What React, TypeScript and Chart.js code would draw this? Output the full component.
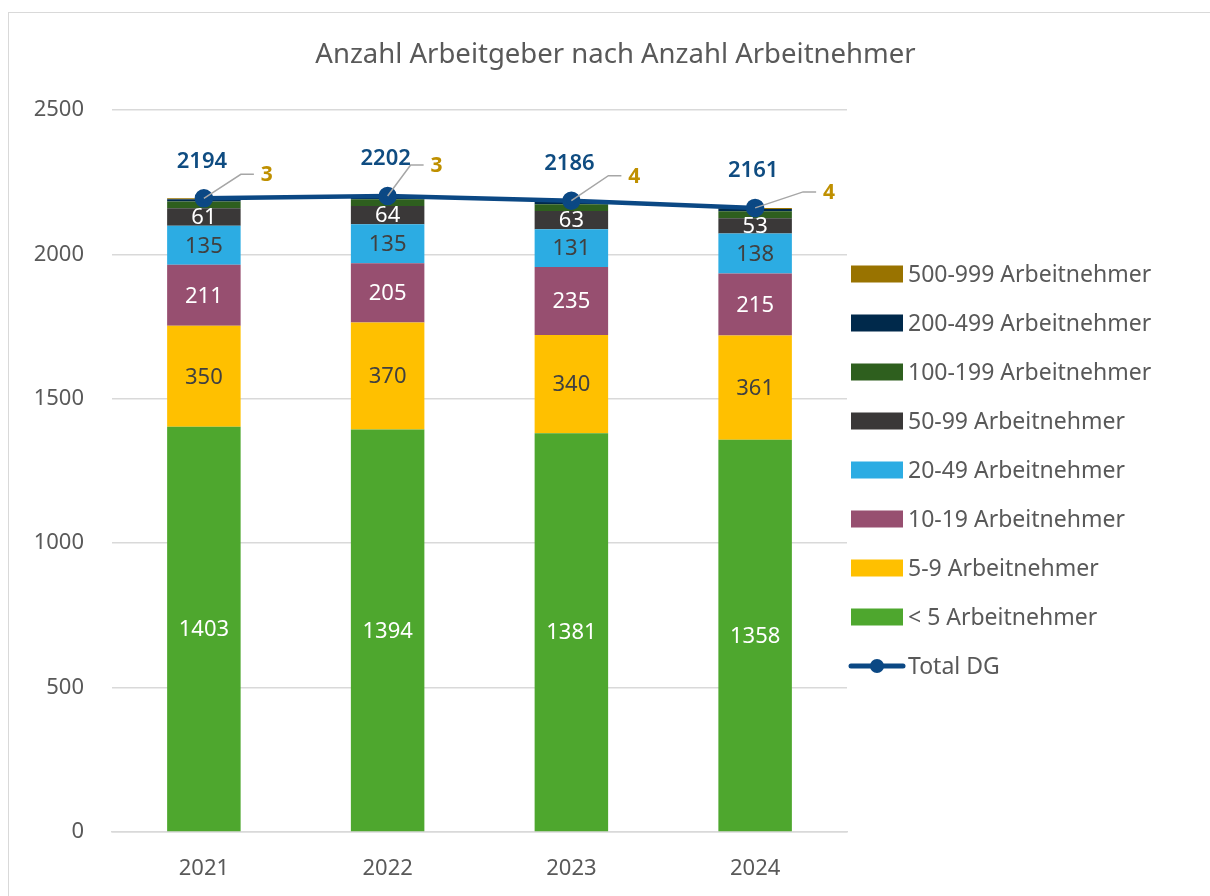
import React, { useEffect, useRef } from 'react';
import { Chart, registerables } from 'chart.js';

Chart.register(...registerables);

const categories = ['2021', '2022', '2023', '2024'];
const lt5 = [1403, 1394, 1381, 1358];
const s5to9 = [350, 370, 340, 361];
const s10to19 = [211, 205, 235, 215];
const s20to49 = [135, 135, 131, 138];
const s50to99 = [61, 64, 63, 53];
const s100to199 = [23, 23, 24, 24];
const s200to499 = [8, 8, 8, 8];
const s500to999 = [3, 3, 4, 4];
const totals = [2194, 2202, 2186, 2161];
const yTicks = [0, 500, 1000, 1500, 2000, 2500];
const titleText = 'Anzahl Arbeitgeber nach Anzahl Arbeitnehmer';

// label offsets (annotation placement for the 500-999 callouts)
const calloutOffsets = [
  [63, -24],
  [49, -31],
  [63, -25],
  [74, -16],
];

const FONT = '"Noto Sans", "Open Sans", sans-serif';
const GREY = '#595959';

export default function App() {
  const ref = useRef<HTMLCanvasElement>(null);

  useEffect(() => {
    if (!ref.current) return;
    const bars = [
      { label: '< 5 Arbeitnehmer', data: lt5, color: '#4EA72E', text: '#FFFFFF', show: true },
      { label: '5-9 Arbeitnehmer', data: s5to9, color: '#FFC000', text: '#404040', show: true },
      { label: '10-19 Arbeitnehmer', data: s10to19, color: '#974F70', text: '#FFFFFF', show: true },
      { label: '20-49 Arbeitnehmer', data: s20to49, color: '#2CACE3', text: '#404040', show: true },
      { label: '50-99 Arbeitnehmer', data: s50to99, color: '#3A3838', text: '#FFFFFF', show: true },
      { label: '100-199 Arbeitnehmer', data: s100to199, color: '#2E5F1E', text: '#FFFFFF', show: false },
      { label: '200-499 Arbeitnehmer', data: s200to499, color: '#00294B', text: '#FFFFFF', show: false },
      { label: '500-999 Arbeitnehmer', data: s500to999, color: '#997300', text: '#FFFFFF', show: false },
    ];
    const lineColor = '#0B4884';
    const lineIndex = bars.length;
    const smallIndex = 7;

    const datasets: any[] = bars.map((b) => ({
      type: 'bar',
      label: b.label,
      data: b.data,
      backgroundColor: b.color,
      borderWidth: 0,
      barPercentage: 0.4,
      categoryPercentage: 1.0,
      stack: 'bars',
      order: 1,
    }));
    datasets.push({
      type: 'line',
      label: 'Total DG',
      data: totals,
      borderColor: lineColor,
      backgroundColor: lineColor,
      borderWidth: 4.5,
      pointRadius: 7,
      pointBackgroundColor: lineColor,
      pointBorderColor: lineColor,
      tension: 0,
      stack: 'line',
      order: 0,
    });

    const labelPlugin = {
      id: 'valueLabels',
      afterDatasetsDraw(chart: any) {
        const ctx = chart.ctx;
        ctx.save();
        ctx.textAlign = 'center';
        ctx.textBaseline = 'middle';
        ctx.font = `22px ${FONT}`;
        bars.forEach((b, i) => {
          if (!b.show) return;
          const meta = chart.getDatasetMeta(i);
          meta.data.forEach((el: any, j: number) => {
            const p = el.getProps(['x', 'y', 'base'], true);
            ctx.fillStyle = b.text;
            ctx.fillText(String(b.data[j]), p.x, (p.y + p.base) / 2 + 1);
          });
        });
        // callouts for 500-999
        const sm = chart.getDatasetMeta(smallIndex);
        sm.data.forEach((el: any, j: number) => {
          const p = el.getProps(['x', 'y'], true);
          const [dx, dy] = calloutOffsets[j];
          const lx = p.x + dx;
          const ly = p.y + dy;
          ctx.strokeStyle = '#A6A6A6';
          ctx.lineWidth = 1.5;
          ctx.beginPath();
          ctx.moveTo(p.x, p.y);
          ctx.lineTo(lx - 26, ly);
          ctx.lineTo(lx - 13, ly);
          ctx.stroke();
          ctx.fillStyle = '#BF9000';
          ctx.font = `bold 21px ${FONT}`;
          ctx.fillText(String(s500to999[j]), lx, ly + 1);
        });
        // totals
        const lm = chart.getDatasetMeta(lineIndex);
        ctx.font = `600 22px ${FONT}`;
        ctx.fillStyle = '#0F4C81';
        lm.data.forEach((el: any, j: number) => {
          const p = el.getProps(['x', 'y'], true);
          ctx.fillText(String(totals[j]), p.x - 2, p.y - 37);
        });
        ctx.restore();
      },
    };

    const legendPlugin = {
      id: 'customLegend',
      afterDraw(chart: any) {
        const ctx = chart.ctx;
        const area = chart.chartArea;
        ctx.save();
        // title centred on the whole canvas
        ctx.font = `27.5px ${FONT}`;
        ctx.fillStyle = GREY;
        ctx.textAlign = 'center';
        ctx.textBaseline = 'middle';
        ctx.fillText(titleText, chart.width / 2 + 6, 42);

        const items = bars.map((b) => ({ label: b.label, color: b.color, line: false })).reverse();
        items.push({ label: 'Total DG', color: lineColor, line: true });
        const spacing = 49;
        const mid = (area.top + area.bottom) / 2 - 1;
        const startY = mid - ((items.length - 1) / 2) * spacing;
        const bx = area.right + 4;
        const bw = 52;
        const bh = 17;
        ctx.font = `23px ${FONT}`;
        ctx.textAlign = 'left';
        ctx.textBaseline = 'middle';
        items.forEach((it, k) => {
          const cy = startY + k * spacing;
          if (it.line) {
            ctx.strokeStyle = it.color;
            ctx.lineWidth = 5;
            ctx.lineCap = 'round';
            ctx.beginPath();
            ctx.moveTo(bx, cy);
            ctx.lineTo(bx + bw, cy);
            ctx.stroke();
            ctx.fillStyle = it.color;
            ctx.beginPath();
            ctx.arc(bx + bw / 2, cy, 7, 0, Math.PI * 2);
            ctx.fill();
          } else {
            ctx.fillStyle = it.color;
            ctx.fillRect(bx, cy - bh / 2, bw, bh);
          }
          ctx.fillStyle = GREY;
          ctx.fillText(it.label, bx + bw + 5, cy + 1);
        });
        ctx.restore();
      },
    };

    const chart = new Chart(ref.current, {
      type: 'bar',
      data: { labels: categories, datasets },
      options: {
        animation: false,
        responsive: true,
        maintainAspectRatio: false,
        layout: { padding: { left: 0, right: 363, top: 97, bottom: 0 } },
        plugins: {
          legend: { display: false },
          tooltip: { enabled: false },
          title: { display: false },
        },
        scales: {
          x: {
            stacked: true,
            grid: { display: false, drawTicks: false },
            border: { display: true, color: '#D9D9D9', width: 1.5 },
            ticks: { color: GREY, font: { family: FONT, size: 22 }, padding: 24 },
            afterFit(scale: any) {
              scale.height = 64;
            },
          },
          y: {
            stacked: true,
            min: 0,
            max: 2500,
            afterBuildTicks(scale: any) {
              scale.ticks = yTicks.map((v) => ({ value: v }));
            },
            grid: { color: '#D9D9D9', lineWidth: 1.5, drawTicks: false },
            border: { display: false },
            ticks: {
              color: GREY,
              font: { family: FONT, size: 22 },
              padding: 28,
              callback: (v: any) => String(v),
            },
            afterFit(scale: any) {
              scale.width = 103;
            },
          },
        },
      } as any,
      plugins: [labelPlugin, legendPlugin],
    });
    return () => chart.destroy();
  }, []);

  return (
    <div
      style={{
        position: 'absolute',
        left: 8,
        top: 12,
        width: 1202,
        height: 884,
        borderLeft: '1px solid #D9D9D9',
        borderTop: '1px solid #D9D9D9',
        background: '#FFFFFF',
      }}
    >
      <div style={{ position: 'relative', width: 1201, height: 883 }}>
        <canvas ref={ref} />
      </div>
    </div>
  );
}
